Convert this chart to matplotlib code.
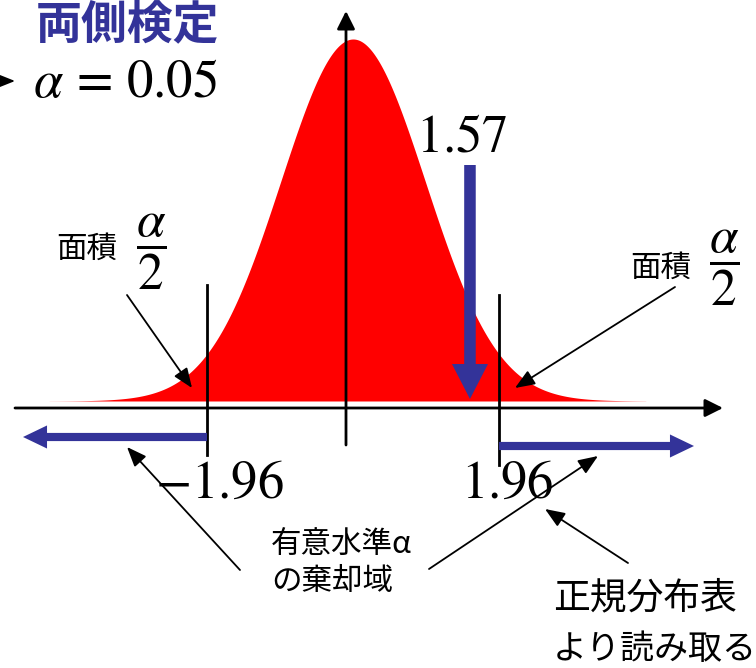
import numpy as np
import matplotlib
matplotlib.use("Agg")
import matplotlib.pyplot as plt

plt.rcParams['font.family'] = ['Noto Sans CJK JP', 'DejaVu Sans']
plt.rcParams['mathtext.fontset'] = 'stix'

# ---- data ----
alpha = 0.05
crit = 1.96          # critical value (two-sided, alpha=0.05)
stat = 1.57          # observed statistic
z_range = [-4.08, 3.93]
title = "両側検定"
area_label = "面積"
reject_lines = ["有意水準α", "の棄却域"]
table_lines = ["正規分布表", "より読み取る"]

# ---- layout helpers (pixel -> data) ----
U, CX, BASE, YS = 74.5, 353.0, 401.0, 907.4
def X(px): return (px - CX) / U
def Y(py): return (BASE - py) / YS

fig = plt.figure(figsize=(7.56, 6.68), dpi=100)
ax = fig.add_axes([0, 0, 1, 1])
ax.set_xlim(X(0), X(756))
ax.set_ylim(Y(668), Y(0))
ax.axis('off')

# normal density (drawn slightly narrower than the axis unit, as in the sketch)
z = np.linspace(z_range[0], z_range[1], 600)
pdf = np.exp(-(z / 0.97)**2 / 2) / np.sqrt(2 * np.pi)
ax.fill_between(z, 0, pdf, color='#FF0000', lw=0, zorder=1)

blk = dict(color='black', lw=2, shrinkA=0, shrinkB=0)
# axes
ax.annotate('', xy=(X(723), Y(408)), xytext=(X(15), Y(408)),
            arrowprops=dict(arrowstyle='-|>', mutation_scale=27, **blk), zorder=3)
ax.annotate('', xy=(X(346), Y(11)), xytext=(X(346), Y(445)),
            arrowprops=dict(arrowstyle='-|>', mutation_scale=27, **blk), zorder=3)

# critical lines
ax.plot([-crit, -crit], [Y(285), Y(455)], color='black', lw=2, zorder=3)
ax.plot([crit, crit], [Y(295), Y(465)], color='black', lw=2, zorder=3)

blue = '#333399'
# rejection region arrows
ax.annotate('', xy=(X(23), Y(437)), xytext=(-crit, Y(437)),
            arrowprops=dict(arrowstyle='simple,head_length=1.0,head_width=0.96,tail_width=0.34',
                            mutation_scale=17.3, color=blue, lw=0, shrinkA=0, shrinkB=0), zorder=3)
ax.annotate('', xy=(X(694), Y(446)), xytext=(crit, Y(446)),
            arrowprops=dict(arrowstyle='simple,head_length=1.0,head_width=0.96,tail_width=0.34',
                            mutation_scale=17.3, color=blue, lw=0, shrinkA=0, shrinkB=0), zorder=3)
# statistic arrow
ax.annotate('', xy=(stat, Y(399)), xytext=(stat, Y(165)),
            arrowprops=dict(arrowstyle='simple,head_length=1.0,head_width=1.03,tail_width=0.33',
                            mutation_scale=25.2, color=blue, lw=0, shrinkA=0, shrinkB=0), zorder=3)

# thin annotation arrows
thin = dict(arrowstyle='-|>,head_length=0.4,head_width=0.16', mutation_scale=30,
            color='black', lw=1.3, shrinkA=0, shrinkB=0)
for (x0, y0), (x1, y1) in [((127, 295), (192, 388)),
                           ((675, 287), (515, 388)),
                           ((240, 570), (127, 447)),
                           ((429, 569), (598, 456)),
                           ((628, 563), (545, 509)),
                           ((-20, 81), (15, 81))]:
    ax.annotate('', xy=(X(x1), Y(y1)), xytext=(X(x0), Y(y0)), arrowprops=thin, zorder=4)

# texts
ax.text(X(36), Y(25), title, fontsize=33, fontweight='bold', color=blue,
        ha='left', va='center')
ax.text(X(33), Y(97), r'$\alpha\,=\,%.2f$' % alpha, fontsize=38, ha='left', va='baseline')
ax.text(X(462), Y(151), r'$%.2f$' % stat, fontsize=38, ha='center', va='baseline')
ax.text(X(155), Y(498), r'$-%.2f$' % crit, fontsize=38, ha='left', va='baseline')
ax.text(X(461), Y(498), r'$%.2f$' % crit, fontsize=38, ha='left', va='baseline')

ax.text(X(56), Y(249), area_label, fontsize=22, ha='left', va='center')
ax.text(X(151), Y(252), r'$\dfrac{\alpha}{2}$', fontsize=37, ha='center', va='center')
ax.text(X(630), Y(268), area_label, fontsize=22, ha='left', va='center')
ax.text(X(724), Y(268), r'$\dfrac{\alpha}{2}$', fontsize=37, ha='center', va='center')

ax.text(X(271), Y(545), reject_lines[0], fontsize=22, ha='left', va='center')
ax.text(X(271), Y(582), reject_lines[1], fontsize=22, ha='left', va='center')
ax.text(X(553), Y(598), table_lines[0], fontsize=26.5, ha='left', va='center')
ax.text(X(553), Y(650), table_lines[1], fontsize=24.5, ha='left', va='center')

fig.savefig('out.png', dpi=100)
